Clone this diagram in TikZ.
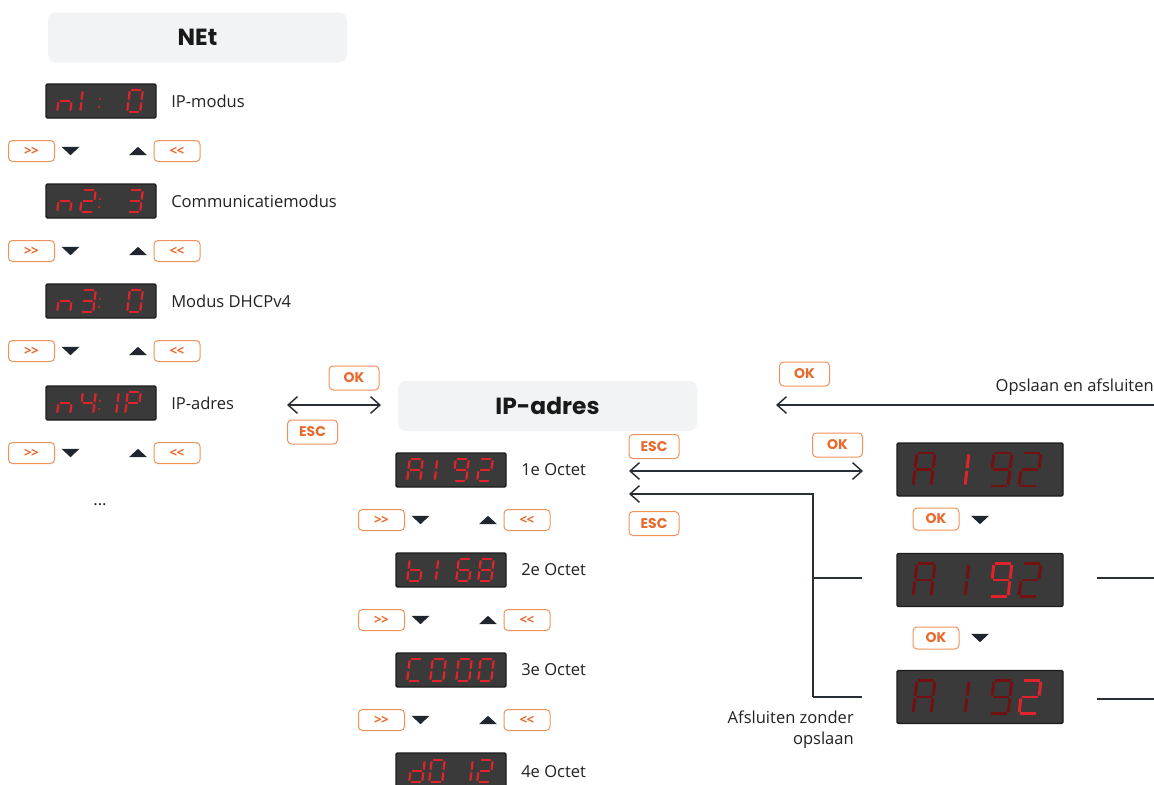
\documentclass[tikz,border=0pt]{standalone}
\usepackage{fontspec}
\setmainfont{Open Sans}
\newfontfamily\pop{Poppins}
\usetikzlibrary{arrows.meta}
\definecolor{orng}{HTML}{E8692C}
\definecolor{orngl}{HTML}{F0925C}
\definecolor{ink}{HTML}{2A2F36}
\definecolor{tri}{HTML}{1F2630}
\definecolor{panel}{HTML}{F2F3F5}
\definecolor{dbg}{HTML}{3A3A3A}
\definecolor{dbd}{HTML}{1C1C1C}
\definecolor{segon}{HTML}{E3232B}
\definecolor{segoff}{HTML}{731010}
\definecolor{txt}{HTML}{222222}

% seven segment helpers
\newcommand\segA{\draw[segl] (-\hw+1.4,-\hh) -- (\hw-1.4,-\hh);}
\newcommand\segB{\draw[segl] (\hw,-\hh+1.4) -- (\hw,-1.4);}
\newcommand\segC{\draw[segl] (\hw,1.4) -- (\hw,\hh-1.4);}
\newcommand\segD{\draw[segl] (-\hw+1.4,\hh) -- (\hw-1.4,\hh);}
\newcommand\segE{\draw[segl] (-\hw,1.4) -- (-\hw,\hh-1.4);}
\newcommand\segF{\draw[segl] (-\hw,-\hh+1.4) -- (-\hw,-1.4);}
\newcommand\segG{\draw[segl] (-\hw+1.4,0) -- (\hw-1.4,0);}
\newcommand\chN{\segC\segE\segG}
\newcommand\chOne{\segB\segC}
\newcommand\chTwo{\segA\segB\segG\segE\segD}
\newcommand\chThree{\segA\segB\segG\segC\segD}
\newcommand\chFour{\segF\segG\segB\segC}
\newcommand\chZero{\segA\segB\segC\segD\segE\segF}
\newcommand\chP{\segA\segB\segF\segG\segE}
\newcommand\chA{\segA\segB\segC\segE\segF\segG}
\newcommand\chNine{\segA\segB\segC\segD\segF\segG}
\newcommand\chSix{\segA\segF\segE\segD\segC\segG}
\newcommand\chEight{\segA\segB\segC\segD\segE\segF\segG}
\newcommand\chb{\segF\segE\segD\segC\segG}
\newcommand\chC{\segA\segF\segE\segD}
\newcommand\chd{\segB\segC\segD\segE\segG}
% small digit: cx, cy, char, colour
\newcommand\sdig[4]{\begin{scope}[shift={(#1,#2)},xslant=0.12]
  \def\hw{6.5}\def\hh{11}\colorlet{segc}{#4}
  \tikzset{segl/.style={draw=segc,line width=1.6pt}}#3\end{scope}}
% big digit
\newcommand\bdig[4]{\begin{scope}[shift={(#1,#2)},xslant=0.12]
  \def\hw{9}\def\hh{16.5}\colorlet{segc}{#4}
  \tikzset{segl/.style={draw=segc,line width=2.2pt}}#3\end{scope}}
\newcommand\segcolon[2]{\fill[segon] (#1,#2-2) circle (1.2) (#1-0.8,#2+6) circle (1.2);}
\newcommand\tdown[2]{\fill[tri] (#1-9,#2-4.2) -- (#1+9,#2-4.2) -- (#1,#2+4.2) -- cycle;}
\newcommand\tup[2]{\fill[tri] (#1-9,#2+4.2) -- (#1+9,#2+4.2) -- (#1,#2-4.2) -- cycle;}
% navigation row: prefix, x offset, y
\newcommand\navrow[3]{%
  \node[sbtn] (#1f) at (31.5+#2,#3) {\textgreater\kern-0.5pt\textgreater};
  \tdown{70.5+#2}{#3}
  \tup{138+#2}{#3}
  \node[sbtn] (#1b) at (177+#2,#3) {\textless\kern-0.5pt\textless};}

\tikzset{
  lbl/.style={anchor=west,inner sep=0pt,text=txt,font=\fontsize{12.4}{14}\selectfont},
  title/.style={fill=panel,rounded corners=6pt,minimum width=224.25pt,minimum height=37.5pt,
    inner sep=0pt,text=black!90,font=\pop\bfseries\fontsize{17.5}{20}\selectfont},
  btn/.style={draw=orngl,line width=0.75pt,fill=white,rounded corners=3pt,text=orng,inner sep=0pt,
    font=\pop\bfseries\fontsize{10.5}{12}\selectfont,minimum width=37.5pt,minimum height=18pt},
  sbtn/.style={btn,minimum width=34.5pt,minimum height=15.75pt,font=\normalfont\bfseries\fontsize{10}{11}\selectfont},
  okbtn/.style={btn,minimum width=34.5pt,minimum height=16.5pt},
  disp/.style={draw=dbd,fill=dbg,line width=1.1pt,rounded corners=1pt,minimum width=82.5pt,
    minimum height=25.5pt,inner sep=0pt},
  bigdisp/.style={disp,minimum width=124.5pt,minimum height=39.75pt},
  conn/.style={draw=ink,line width=1.1pt},
  >={Straight Barb[length=7pt,width=12.5pt]}
}

\begin{document}
\begin{tikzpicture}[x=0.75pt,y=-0.75pt]
\useasboundingbox[fill=white] (0,0) rectangle (1154,785);

% ---------- left column ----------
\node[title] (net) at (197.5,37.5) {NEt};

\node[disp] (n1) at (101,101) {};
\sdig{65}{101}{\chN}{segon}\sdig{75}{101}{\chOne}{segon}\segcolon{100}{101}\sdig{135}{101}{\chZero}{segon}
\node[lbl] (l1) at (171,101) {IP-modus};
\navrow{r1}{0}{151}

\node[disp] (n2) at (101,201) {};
\sdig{65}{201}{\chN}{segon}\sdig{88}{201}{\chTwo}{segon}\segcolon{100}{201}\sdig{135}{201}{\chThree}{segon}
\node[lbl] (l2) at (171,201) {Communicatiemodus};
\navrow{r2}{0}{251}

\node[disp] (n3) at (101,301) {};
\sdig{65}{301}{\chN}{segon}\sdig{88}{301}{\chThree}{segon}\segcolon{100}{301}\sdig{135}{301}{\chZero}{segon}
\node[lbl] (l3) at (171,301) {Modus DHCPv4};
\navrow{r3}{0}{351}

\node[disp] (n4) at (101,403) {};
\sdig{65}{403}{\chN}{segon}\sdig{88}{403}{\chFour}{segon}\segcolon{100}{403}\sdig{111}{403}{\chOne}{segon}\sdig{133}{403}{\chP}{segon}
\node[lbl] (l4) at (171,403) {IP-adres};
\navrow{r4}{0}{453}

\node[lbl,anchor=center] (dots) at (100,505) {...};

% ---------- link to IP-adres ----------
\coordinate (a1) at (287,405);
\coordinate (a2) at (381,405);
\draw[conn,<->] (a1) -- (a2);
\node[btn] (ok1) at (354,378) {OK};
\node[btn] (esc1) at (312.5,432) {ESC};

% ---------- middle column ----------
\node[title] (ipa) at (547.5,406) {IP-adres};

\node[disp] (m1) at (451,470) {};
\sdig{415}{470}{\chA}{segon}\sdig{429.5}{470}{\chOne}{segon}\sdig{461}{470}{\chNine}{segon}\sdig{485}{470}{\chTwo}{segon}
\node[lbl] (o1) at (521,470) {1e Octet};
\navrow{q1}{350}{520}

\node[disp] (m2) at (451,570) {};
\sdig{415}{570}{\chb}{segon}\sdig{430.5}{570}{\chOne}{segon}\sdig{464}{570}{\chSix}{segon}\sdig{486}{570}{\chEight}{segon}
\node[lbl] (o2) at (521,570) {2e Octet};
\navrow{q2}{350}{620}

\node[disp] (m3) at (451,670) {};
\sdig{415}{670}{\chC}{segon}\sdig{438}{670}{\chZero}{segon}\sdig{464}{670}{\chZero}{segon}\sdig{486}{670}{\chZero}{segon}
\node[lbl] (o3) at (521,670) {3e Octet};
\navrow{q3}{350}{720}

\node[disp] (m4) at (451,770) {};
\sdig{417}{771}{\chd}{segon}\sdig{437}{771}{\chZero}{segon}\sdig{465}{771}{\chOne}{segon}\sdig{485}{771}{\chTwo}{segon}
\node[lbl] (o4) at (521,772) {4e Octet};

% ---------- editing ----------
\coordinate (b1) at (629,471);
\coordinate (b2) at (863,471);
\draw[conn,<->] (b1) -- (b2);
\node[btn] (esc2) at (654,446.5) {ESC};
\node[btn] (ok2) at (837.5,445) {OK};

\coordinate (e1) at (629,494);
\coordinate (e2) at (813,494);
\coordinate (e3) at (813,697);
\coordinate (e4) at (813,578);
\coordinate (e5) at (862,578);
\coordinate (e6) at (862,697);
\draw[conn,->] (e3) -- (e2) -- (e1);
\draw[conn] (e4) -- (e5);
\draw[conn] (e3) -- (e6);
\node[btn] (esc3) at (654,523.5) {ESC};
\node[lbl,anchor=east,align=right,font=\fontsize{12.4}{15.75}\selectfont] (afz) at (854,729.5) {Afsluiten zonder\\opslaan};

\node[bigdisp] (d1) at (980,469.5) {};
\bdig{924}{469.5}{\chA}{segoff}\bdig{958}{469.5}{\chOne}{segon}\bdig{1001}{469.5}{\chNine}{segoff}\bdig{1030}{469.5}{\chTwo}{segoff}
\node[okbtn] (ok3) at (936,519) {OK};
\tdown{980}{520}

\node[bigdisp] (d2) at (980,580) {};
\bdig{924}{580}{\chA}{segoff}\bdig{958}{580}{\chOne}{segoff}\bdig{1001}{580}{\chNine}{segon}\bdig{1030}{580}{\chTwo}{segoff}
\node[okbtn] (ok4) at (936,638) {OK};
\tdown{980}{638}

\node[bigdisp] (d3) at (980,697) {};
\bdig{924}{697}{\chA}{segoff}\bdig{958}{697}{\chOne}{segoff}\bdig{1001}{697}{\chNine}{segoff}\bdig{1030}{697}{\chTwo}{segon}

\coordinate (r1) at (1097,578);
\coordinate (r2) at (1154,578);
\coordinate (r3) at (1097,699);
\coordinate (r4) at (1154,699);
\draw[conn] (r1) -- (r2);
\draw[conn] (r3) -- (r4);

% ---------- save ----------
\coordinate (s1) at (1154,405);
\coordinate (s2) at (776,405);
\draw[conn,->] (s1) -- (s2);
\node[btn] (ok5) at (804.5,374) {OK};
\node[lbl,anchor=east] (save) at (1154,387) {Opslaan en afsluiten};
\end{tikzpicture}
\end{document}
